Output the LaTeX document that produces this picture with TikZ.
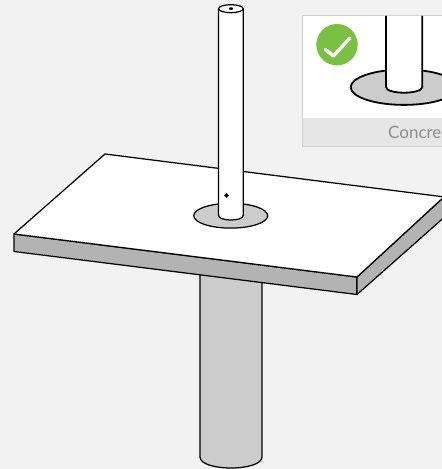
\documentclass[tikz,border=0pt]{standalone}
\usepackage{fontspec}
\setmainfont{Lato}
\definecolor{bgc}{HTML}{F2F2F2}
\definecolor{sidec}{HTML}{B3B3B3}
\definecolor{plc}{HTML}{CCCCCC}
\definecolor{cardb}{HTML}{D0D0D0}
\definecolor{cardf}{HTML}{E6E6E6}
\definecolor{okc}{HTML}{7AC143}
\definecolor{txtc}{HTML}{8C8C8C}
\tikzset{
  ln/.style={draw=black,line width=1.25pt,line join=round},
  lnb/.style={draw=black,line width=1.8pt,line join=round},
}
\begin{document}
\begin{tikzpicture}[x=1pt,y=-1pt]
\useasboundingbox (0,0) rectangle (442,469);
\fill[bgc] (0,0) rectangle (442,469);
% column
\path[ln,fill=plc] (200,270) -- (200,457) .. controls (200,464) and (215,468) .. (231,468) .. controls (247,468) and (262,464) .. (262,457) -- (262,270) -- cycle;
% slab
\coordinate (A) at (105,154);
\coordinate (B) at (14,234);
\coordinate (C) at (357,277);
\coordinate (D) at (444,196.9);
\coordinate (B2) at (14,251.5);
\coordinate (C2) at (357,294.5);
\coordinate (D2) at (444,217.5);
\path[ln,fill=sidec] (B) -- (C) -- (C2) -- (B2) -- cycle;
\path[ln,fill=sidec] (C) -- (D) -- (D2) -- (C2) -- cycle;
\path[ln,fill=white] (A) -- (B) -- (C) -- (D) -- cycle;
% plate
\path[ln,fill=plc] (230.7,215.7) ellipse [x radius=37,y radius=12.4];
% tube
\path[ln,fill=white] (218.6,8.7) -- (218.6,215.5) .. controls (218.6,218.5) and (225,220) .. (231,220) .. controls (237,220) and (243.2,218.5) .. (243.2,215.5) -- (243.2,8.7) -- cycle;
\path[ln,fill=white] (230.9,8.7) ellipse [x radius=12.3,y radius=4];
\fill[black] (231,8.6) ellipse [x radius=2.1,y radius=1.3];
\path[draw=black,line width=1.5pt,fill=black!45] (226.6,195.5) circle [radius=1.3];
% inset card
\begin{scope}
\clip (302,15) rectangle (442,147);
\fill[white] (303,16) rectangle (442,118);
\fill[cardf] (303,118) rectangle (442,146);
\draw[cardb,line width=0.9pt] (442.5,15.5) -- (302.5,15.5) -- (302.5,146.5) -- (442.5,146.5);
\path[lnb,fill=plc] (404,87.2) ellipse [x radius=53.3,y radius=17.7];
\path[lnb,fill=white] (386,15.8) -- (386,87) .. controls (386,91) and (396,92.7) .. (404,92.7) .. controls (412,92.7) and (422.3,91) .. (422.3,87) -- (422.3,15.8);
\fill[white] (386.9,16) rectangle (421.4,20);
\node[anchor=base west,inner sep=0pt,text=txtc,font=\fontsize{17pt}{20pt}\selectfont] (lab) at (388,138.5) {Concre};
\end{scope}
\fill[okc] (337,44.7) circle [radius=20.7];
\coordinate (ck1) at (325.5,49.5);
\coordinate (ck2) at (333.4,56);
\coordinate (ck3) at (350,38);
\draw[white,line width=3.4pt,line cap=round,line join=round] (ck1) -- (ck2) -- (ck3);
\end{tikzpicture}
\end{document}
